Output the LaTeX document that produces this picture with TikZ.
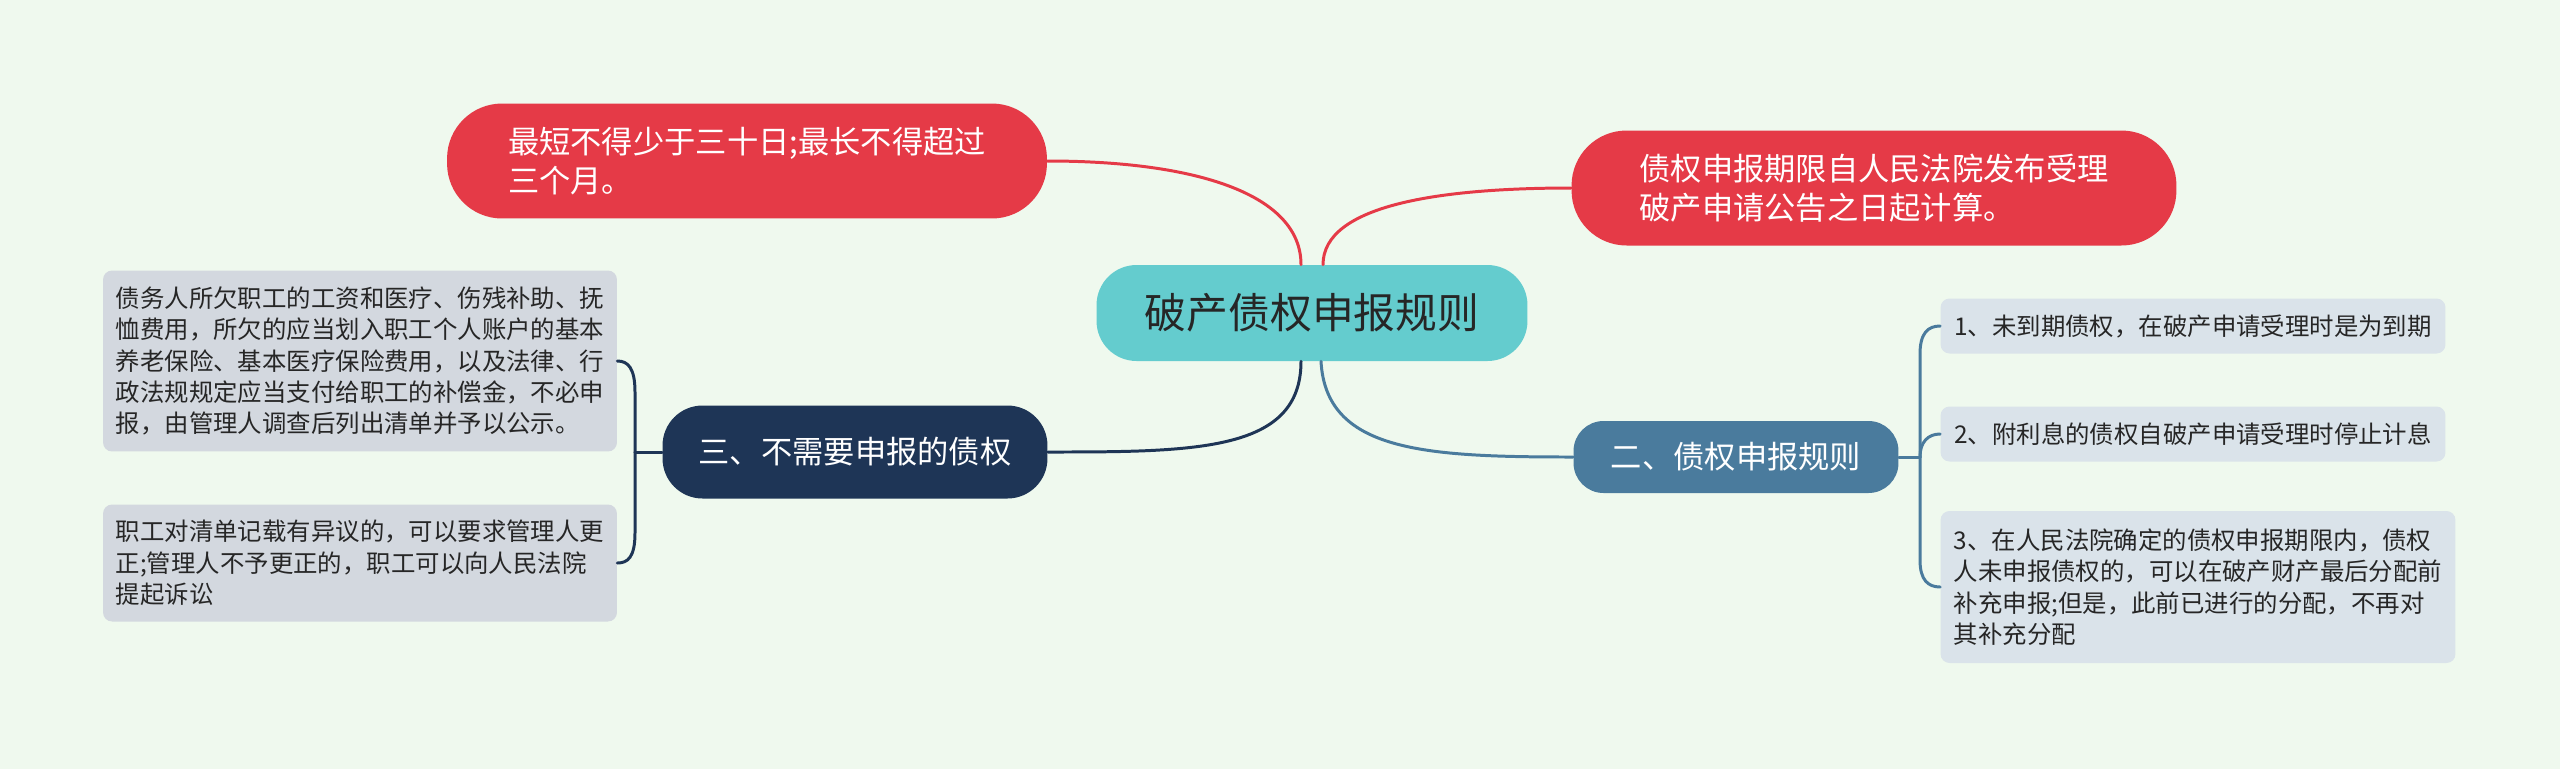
\documentclass[tikz,border=0pt]{standalone}
\usepackage{fontspec}
\usepackage{xcolor}
\usepackage{tikz}
\usetikzlibrary{positioning, calc}
\newfontfamily\cjk{Noto Sans CJK SC}

\definecolor{bgmint}{HTML}{EFF9EE}
\definecolor{rootteal}{HTML}{64CCCE}
\definecolor{alertred}{HTML}{E53A47}
\definecolor{darknavy}{HTML}{1E3556}
\definecolor{steelblue}{HTML}{4A7B9D}
\definecolor{leafgray}{HTML}{D3D8DF}
\definecolor{leafblue}{HTML}{DAE3EA}

\begin{document}
\begin{tikzpicture}[
    x=0.02cm, y=-0.02cm,
    font=\cjk,
    link/.style={line width=1.7pt, line cap=round},
    rootbox/.style={rectangle, fill=rootteal, rounded corners=0.8cm, minimum width=8.62cm, minimum height=1.92cm, font=\cjk\fontsize{23.8}{28}\selectfont, text=black!85},
    redbox/.style={rectangle, fill=alertred, rounded corners=1.1cm, minimum height=2.3cm, align=left, text=white, font=\cjk\fontsize{17.8}{22.2}\selectfont},
    branch/.style={rectangle, fill=#1, rounded corners=0.8cm, text=white, font=\cjk\fontsize{17.8}{22}\selectfont},
    leaf/.style={rectangle, fill=#1, rounded corners=0.18cm, align=left, text=black!85, font=\cjk\fontsize{13.9}{17.9}\selectfont},
]
    \useasboundingbox[fill=bgmint] (0,0) rectangle (2560,769);

    \node[rootbox] (root) at (1312,313) {破产债权申报规则};

    \node[redbox, minimum width=12cm] (shortest) at (747,161) {最短不得少于三十日;最长不得超过\\三个月。};
    \node[redbox, minimum width=12.1cm] (period) at (1874,188) {债权申报期限自人民法院发布受理\\破产申请公告之日起计算。};

    \node[branch=darknavy, minimum width=7.7cm, minimum height=1.86cm] (noclaim) at (855,452) {三、不需要申报的债权};
    \node[branch=steelblue, minimum width=6.5cm, minimum height=1.44cm, rounded corners=0.6cm] (rules) at (1736,457) {二、债权申报规则};

    % left leaves
    \node[leaf=leafgray, minimum width=10.28cm, minimum height=3.62cm] (wages) at (360,361) {债务人所欠职工的工资和医疗、伤残补助、抚\\恤费用，所欠的应当划入职工个人账户的基本\\养老保险、基本医疗保险费用，以及法律、行\\政法规规定应当支付给职工的补偿金，不必申\\报，由管理人调查后列出清单并予以公示。};
    \node[leaf=leafgray, minimum width=10.28cm, minimum height=2.34cm] (objection) at (360,563) {职工对清单记载有异议的，可以要求管理人更\\正;管理人不予更正的，职工可以向人民法院\\提起诉讼};

    % right leaves
    \node[leaf=leafblue, minimum width=10.1cm, minimum height=1.1cm] (ruleone) at (2193,326) {1、未到期债权，在破产申请受理时是为到期};
    \node[leaf=leafblue, minimum width=10.1cm, minimum height=1.1cm] (ruletwo) at (2193,434) {2、附利息的债权自破产申请受理时停止计息};
    \node[leaf=leafblue, minimum width=10.3cm, minimum height=3.04cm] (rulethree) at (2198,587) {3、在人民法院确定的债权申报期限内，债权\\人未申报债权的，可以在破产财产最后分配前\\补充申报;但是，此前已进行的分配，不再对\\其补充分配};

    % connectors from the root
    \draw[link, alertred] ($(root.north)+(-11,0)$) .. controls +(0,-70) and +(150,0) .. (shortest.east);
    \draw[link, alertred] ($(root.north)+(11,0)$) .. controls +(0,-60) and +(-130,0) .. (period.west);
    \draw[link, darknavy] ($(root.south)+(-11,0)$) .. controls +(0,90) and +(150,0) .. (noclaim.east);
    \draw[link, steelblue] ($(root.south)+(9,0)$) .. controls +(5,90) and +(-150,0) .. (rules.west);

    % left bracket
    \coordinate (lj) at (635,452);
    \draw[link, darknavy] (noclaim.west) -- (lj);
    \draw[link, darknavy] (lj) -- (635,392) .. controls (635,368) and (628,361) .. (wages.east);
    \draw[link, darknavy] (lj) -- (635,533) .. controls (635,557) and (628,563) .. (objection.east);

    % right bracket
    \coordinate (rj) at (1920,457);
    \draw[link, steelblue] (rules.east) -- (rj);
    \draw[link, steelblue] (rj) -- (1920,354) .. controls (1920,333) and (1928,326) .. (ruleone.west);
    \draw[link, steelblue] (rj) .. controls (1920,442) and (1928,434) .. (ruletwo.west);
    \draw[link, steelblue] (rj) -- (1920,560) .. controls (1920,580) and (1928,587) .. (rulethree.west);
\end{tikzpicture}
\end{document}
